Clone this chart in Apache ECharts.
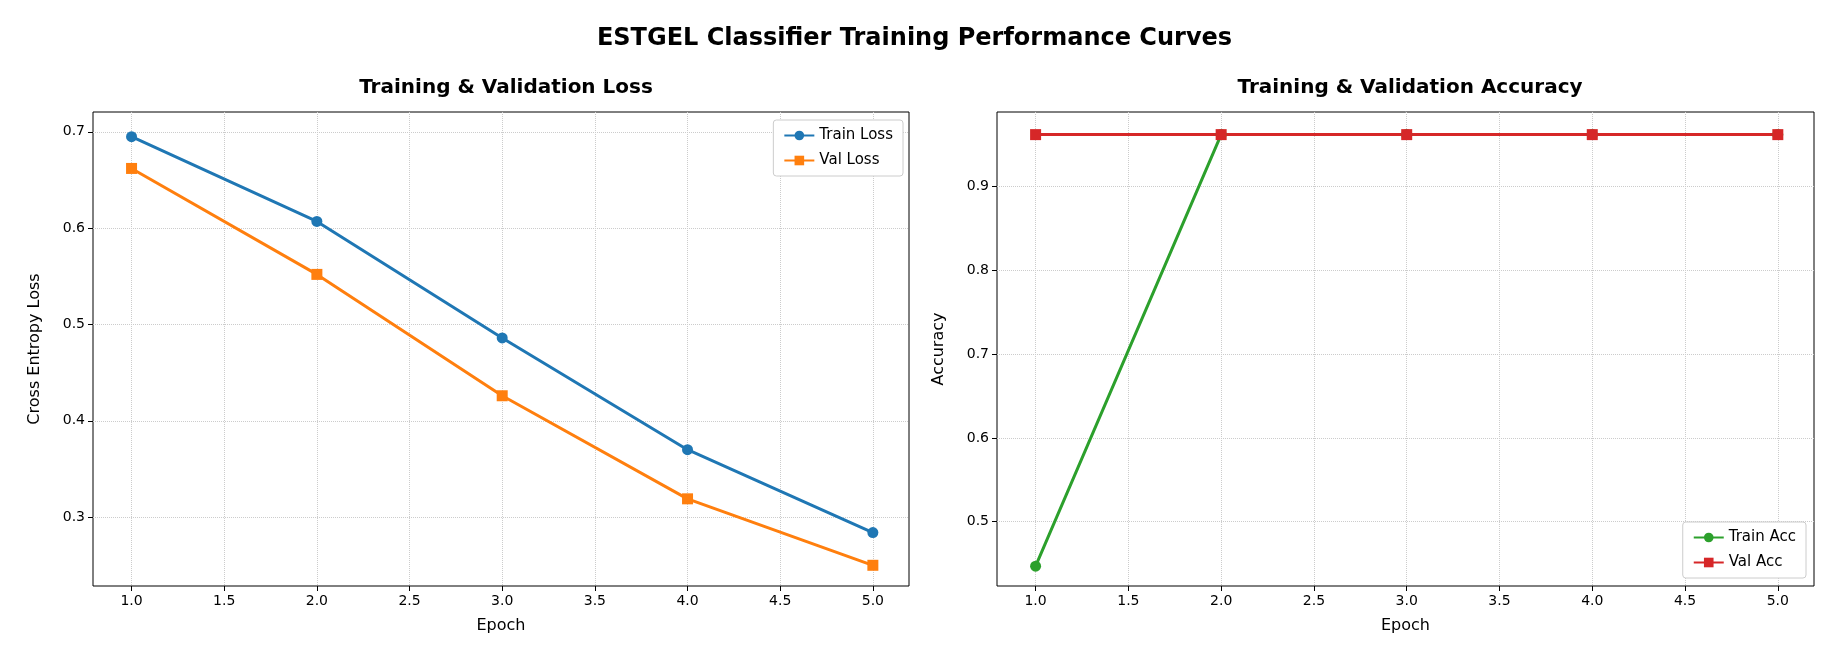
<!DOCTYPE html>
<html>
<head>
<meta charset="UTF-8">
<script src="https://cdn.jsdelivr.net/npm/echarts@6/dist/echarts.min.js"></script>
<style>
*{margin:0;padding:0}
html,body{width:100%;height:100%;background:#fff}
#main{width:1829px;height:656px}
</style>
</head>
<body>
<div id="main"></div>
<script>
var epochs = [1, 2, 3, 4, 5];
var trainLoss = [0.695, 0.607, 0.486, 0.370, 0.284];
var valLoss = [0.662, 0.552, 0.426, 0.319, 0.250];
var trainAcc = [0.447, 0.962, 0.962, 0.962, 0.962];
var valAcc = [0.962, 0.962, 0.962, 0.962, 0.962];
var xTicks = [1.0, 1.5, 2.0, 2.5, 3.0, 3.5, 4.0, 4.5, 5.0];
var lossTicks = [0.3, 0.4, 0.5, 0.6, 0.7];
var accTicks = [0.5, 0.6, 0.7, 0.8, 0.9];

var font = 'DejaVu Sans';
function pairs(ys) { return epochs.map(function (e, i) { return [e, ys[i]]; }); }
function xAxis(idx) {
    return {
        type: 'value', gridIndex: idx, min: 0.792, max: 5.195,
        name: 'Epoch', nameLocation: 'middle', nameGap: 32,
        nameTextStyle: {fontFamily: font, fontSize: 16, color: '#000'},
        axisLine: {show: false},
        axisTick: {show: true, customValues: xTicks, length: 5, lineStyle: {color: '#000'}},
        axisLabel: {customValues: xTicks, fontFamily: font, fontSize: 14, color: '#000',
            formatter: function (v) { return v.toFixed(1); }},
        splitLine: {show: true, lineStyle: {color: '#ccc', type: 'dotted'}}
    };
}
function yAxis(idx, min, max, ticks, name) {
    return {
        type: 'value', gridIndex: idx, min: min, max: max,
        name: name, nameLocation: 'middle', nameGap: 50,
        nameTextStyle: {fontFamily: font, fontSize: 16, color: '#000'},
        axisLine: {show: false},
        axisTick: {show: true, customValues: ticks, length: 5, lineStyle: {color: '#000'}},
        axisLabel: {customValues: ticks, fontFamily: font, fontSize: 14, color: '#000',
            formatter: function (v) { return v.toFixed(1); }},
        splitLine: {show: true, lineStyle: {color: '#ccc', type: 'dotted'}}
    };
}
function line(name, data, color, symbol, xi, sz) {
    return {
        name: name, type: 'line', data: pairs(data), xAxisIndex: xi, yAxisIndex: xi,
        symbol: symbol, symbolSize: sz, color: color,
        lineStyle: {width: 3, color: color}, itemStyle: {color: color}
    };
}
var myChart = echarts.init(document.getElementById('main'));
var option = {
    animation: false,
    title: [
        {text: 'ESTGEL Classifier Training Performance Curves', left: 'center', top: 22,
            textStyle: {fontFamily: font, fontSize: 24, fontWeight: 'bold', color: '#000'}},
        {text: 'Training & Validation Loss', left: 501, top: 73, textAlign: 'center',
            textStyle: {fontFamily: font, fontSize: 20, fontWeight: 'bold', color: '#000'}},
        {text: 'Training & Validation Accuracy', left: 1405, top: 73, textAlign: 'center',
            textStyle: {fontFamily: font, fontSize: 20, fontWeight: 'bold', color: '#000'}}
    ],
    grid: [
        {left: 93, top: 112, width: 816, height: 474, show: true, borderColor: '#000', borderWidth: 1},
        {left: 997, top: 112, width: 817, height: 474, show: true, borderColor: '#000', borderWidth: 1}
    ],
    legend: [
        {data: ['Train Loss', 'Val Loss'], orient: 'vertical', right: 926, top: 120,
            itemWidth: 30, itemHeight: 12, itemGap: 10, padding: [8, 10],
            borderColor: '#ccc', borderWidth: 1, borderRadius: 3, backgroundColor: '#fff',
            textStyle: {fontFamily: font, fontSize: 15, color: '#000'}},
        {data: ['Train Acc', 'Val Acc'], orient: 'vertical', right: 23, bottom: 78,
            itemWidth: 30, itemHeight: 12, itemGap: 10, padding: [8, 10],
            borderColor: '#ccc', borderWidth: 1, borderRadius: 3, backgroundColor: '#fff',
            textStyle: {fontFamily: font, fontSize: 15, color: '#000'}}
    ],
    xAxis: [xAxis(0), xAxis(1)],
    yAxis: [
        yAxis(0, 0.2285, 0.7206, lossTicks, 'Cross Entropy Loss'),
        yAxis(1, 0.4233, 0.989, accTicks, 'Accuracy')
    ],
    series: [
        line('Train Loss', trainLoss, '#1f77b4', 'circle', 0, 11),
        line('Val Loss', valLoss, '#ff7f0e', 'rect', 0, 11),
        line('Train Acc', trainAcc, '#2ca02c', 'circle', 1, 11),
        line('Val Acc', valAcc, '#d62728', 'rect', 1, 11)
    ]
};
myChart.setOption(option);
</script>
</body>
</html>
